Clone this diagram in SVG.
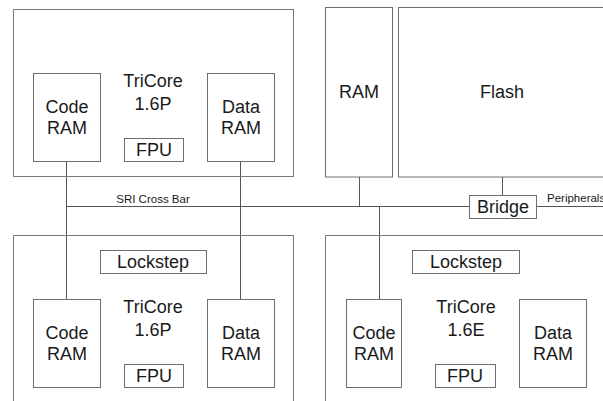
<svg xmlns="http://www.w3.org/2000/svg" width="603" height="401" viewBox="0 0 603 401">
<style>
.box{fill:#fff;stroke:#6e6e6e;stroke-width:1}
.cont{fill:none;stroke:#7a7a7a;stroke-width:1}
.ln{fill:none;stroke:#555;stroke-width:1}
text{font-family:"Liberation Sans",Arial,sans-serif;fill:#1a1a1a;text-anchor:middle}
.t{font-size:18px}
.s{font-size:11.5px}
</style>
<rect width="603" height="401" fill="#fff"/>
<g id="connectors">
<path class="ln" d="M66.5 161V299M240.5 161V299M66.5 206.5H469.5M536.5 206.5H603M359.5 177V206.5M502.5 177V195.5M379.5 206.5V299"/>
</g>
<g id="core-top">
<rect class="cont" x="13.5" y="9.5" width="280" height="167"/>
<text class="t" x="153" y="87">TriCore</text>
<text class="t" x="153" y="110">1.6P</text>
</g>
<g id="code-ram-top"><rect class="box" x="33.5" y="73.5" width="67" height="88"/><text class="t" x="67" y="113">Code</text><text class="t" x="67" y="134">RAM</text></g>
<g id="data-ram-top"><rect class="box" x="207.5" y="73.5" width="67" height="88"/><text class="t" x="241" y="113">Data</text><text class="t" x="241" y="134">RAM</text></g>
<g id="fpu-top"><rect class="box" x="124.5" y="138.5" width="59" height="23"/><text class="t" x="154" y="156">FPU</text></g>
<g id="ram"><rect class="box" x="325.5" y="7.5" width="67" height="169.5"/><text class="t" x="359" y="98">RAM</text></g>
<g id="flash"><rect class="box" x="398.5" y="7.5" width="230" height="169.5"/><text class="t" x="502" y="98">Flash</text></g>
<g id="bridge"><rect class="box" x="469.5" y="195.5" width="67" height="23"/><text class="t" x="503" y="213">Bridge</text></g>
<g id="labels">
<text class="s" x="153" y="203">SRI Cross Bar</text>
<text class="s" x="547" y="202" style="text-anchor:start">Peripherals</text>
</g>
<g id="core-bl">
<rect class="cont" x="13.5" y="235.5" width="280" height="180"/>
<text class="t" x="153" y="313">TriCore</text>
<text class="t" x="153" y="336">1.6P</text>
</g>
<g id="lockstep-bl"><rect class="box" x="100.5" y="250.5" width="106" height="23"/><text class="t" x="153" y="268">Lockstep</text></g>
<g id="code-ram-bl"><rect class="box" x="33.5" y="299.5" width="67" height="88"/><text class="t" x="67" y="339">Code</text><text class="t" x="67" y="360">RAM</text></g>
<g id="data-ram-bl"><rect class="box" x="207.5" y="299.5" width="67" height="88"/><text class="t" x="241" y="339">Data</text><text class="t" x="241" y="360">RAM</text></g>
<g id="fpu-bl"><rect class="box" x="124.5" y="364.5" width="59" height="23"/><text class="t" x="154" y="382">FPU</text></g>
<g id="core-br">
<rect class="cont" x="325.5" y="235.5" width="300" height="180"/>
<text class="t" x="466" y="313">TriCore</text>
<text class="t" x="466" y="336">1.6E</text>
</g>
<g id="lockstep-br"><rect class="box" x="412.5" y="250.5" width="107" height="23"/><text class="t" x="466" y="268">Lockstep</text></g>
<g id="code-ram-br"><rect class="box" x="346.5" y="299.5" width="55" height="88"/><text class="t" x="374" y="339">Code</text><text class="t" x="374" y="360">RAM</text></g>
<g id="data-ram-br"><rect class="box" x="519.5" y="299.5" width="67" height="88"/><text class="t" x="553" y="339">Data</text><text class="t" x="553" y="360">RAM</text></g>
<g id="fpu-br"><rect class="box" x="435.5" y="364.5" width="60" height="23"/><text class="t" x="465" y="382">FPU</text></g>
</svg>
